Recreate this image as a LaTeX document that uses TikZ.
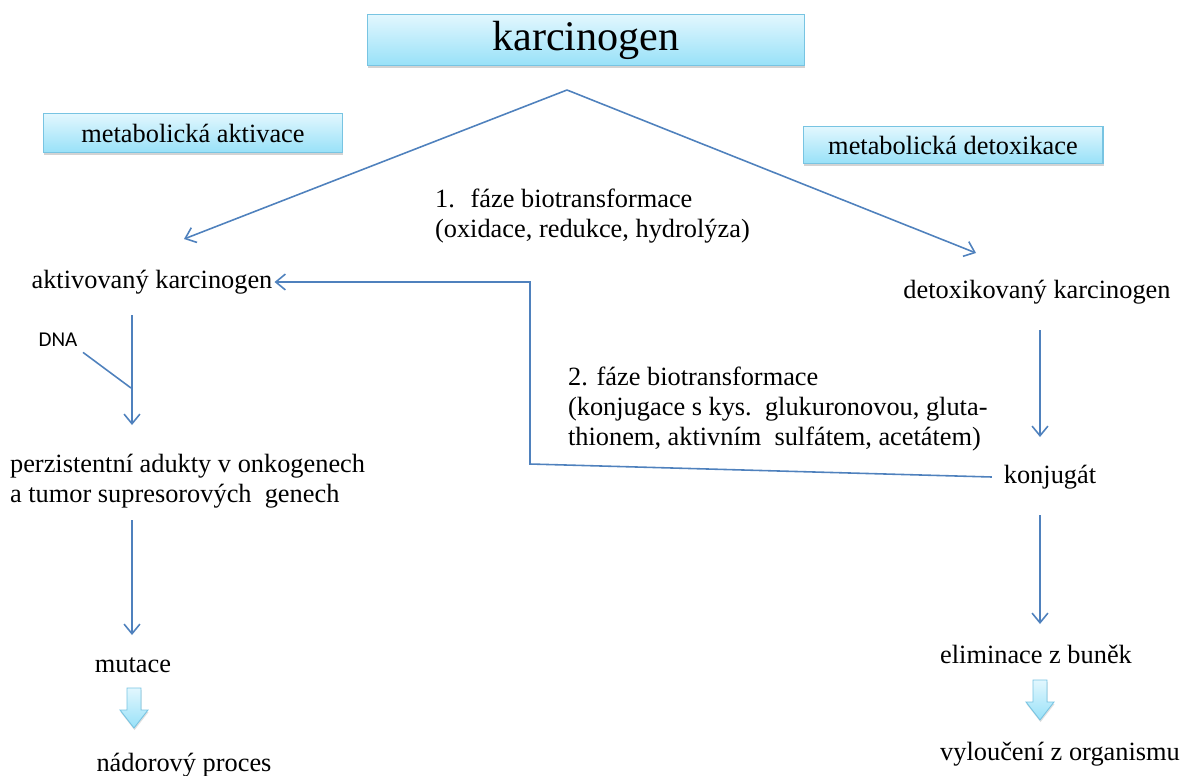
\documentclass[tikz,border=0pt]{standalone}
\usepackage{fontspec}
\setmainfont{Liberation Serif}
\newfontfamily\dnafont{Carlito}
\usetikzlibrary{arrows.meta,shadows}
\definecolor{linkblue}{RGB}{79,129,189}
\definecolor{boxtop}{RGB}{226,247,254}
\definecolor{boxbot}{RGB}{152,225,248}
\definecolor{boxline}{RGB}{120,196,226}
\newcommand\fatdown[1]{%
  \draw[fat] (#1) ++(-7,-20) -- ++(14,0) -- ++(0,22) -- ++(7,0) -- ++(-14,18)
    -- ++(-14,-18) -- ++(7,0) -- cycle;}
\begin{document}
\begin{tikzpicture}[x=0.02cm,y=-0.02cm,
    every node/.style={font=\fontsize{15}{17}\selectfont, inner sep=1pt},
    lbox/.style={draw=boxline, top color=boxtop, bottom color=boxbot, line width=0.6pt,
        drop shadow={shadow xshift=0.3pt, shadow yshift=-1.2pt, opacity=0.35}},
    fat/.style={draw=boxline, line width=0.5pt, top color=boxtop, bottom color=boxbot,
        drop shadow={shadow xshift=0.3pt, shadow yshift=-1.2pt, opacity=0.25}},
    link/.style={draw=linkblue, line width=0.9pt},
    ->/.style={link, -{Straight Barb[length=5.5pt,width=9pt]}}]
            \useasboundingbox (0,0) rectangle (1181,775);

            \node[lbox, minimum width=8.76cm, minimum height=1.02cm, font=\fontsize{24}{28}\selectfont] (karc) at (586,40) {karcinogen};
            \node[lbox, minimum width=5.98cm, minimum height=0.78cm] (aktbox) at (193,133) {metabolická aktivace};
            \node[lbox, minimum width=6cm, minimum height=0.74cm] (detbox) at (953,145) {metabolická detoxikace};

            \node[align=left, anchor=west] (faze1) at (433,216) {1.\hspace{9pt}fáze biotransformace\\(oxidace, redukce, hydrolýza)};
            \node (aktiv) at (152,282) {aktivovaný karcinogen};
            \node (detox) at (1037,292) {detoxikovaný karcinogen};
            \node[font=\dnafont\fontsize{12}{14}\selectfont] (dna) at (58,340) {DNA};
            \node[align=left, anchor=west] (adukty) at (8,481) {perzistentní adukty v onkogenech\\a tumor supresorových\ \ genech};
            \node (mutace) at (133,665) {mutace};
            \node (nador) at (184,765) {nádorový proces};
            \node[align=left, anchor=west] (faze2) at (566,409) {2. fáze biotransformace\\(konjugace s kys.\ \ glukuronovou, gluta-\\thionem, aktivním\ \ sulfátem, acetátem)};
            \node (konj) at (1050,477) {konjugát};
            \node (elim) at (1036,654) {eliminace z buněk};
            \node (vyl) at (1060,754) {vyloučení z organismu};

            \coordinate (apex) at (567,90);
            \coordinate (aktin) at (184,239);
            \coordinate (detin) at (976,253);
            \coordinate (dnain) at (131,388);
            \coordinate (turn) at (530,464);
            \coordinate (a1) at (132,315);
            \coordinate (a2) at (132,425);
            \coordinate (a3) at (132,520);
            \coordinate (a4) at (132,635);
            \coordinate (d1) at (1040,330);
            \coordinate (d2) at (1040,437);
            \coordinate (d3) at (1040,515);
            \coordinate (d4) at (1040,624);
            \coordinate (fatl) at (134,708);
            \coordinate (fatr) at (1040,700);

            \fatdown{fatl}
            \fatdown{fatr}

            \draw[->] (apex) to (aktin);
            \draw[->] (apex) to (detin);
            \draw[->] (a1) to (a2);
            \draw[link] ([xshift=2pt,yshift=-2pt]dna.south east) to (dnain);
            \draw[->] (a3) to (a4);
            \draw[->] (d1) to (d2);
            \draw[->] (d3) to (d4);
            \draw[->] ([xshift=-0.2cm]konj.west) to (turn) |- (aktiv.east);
        \end{tikzpicture}
\end{document}
